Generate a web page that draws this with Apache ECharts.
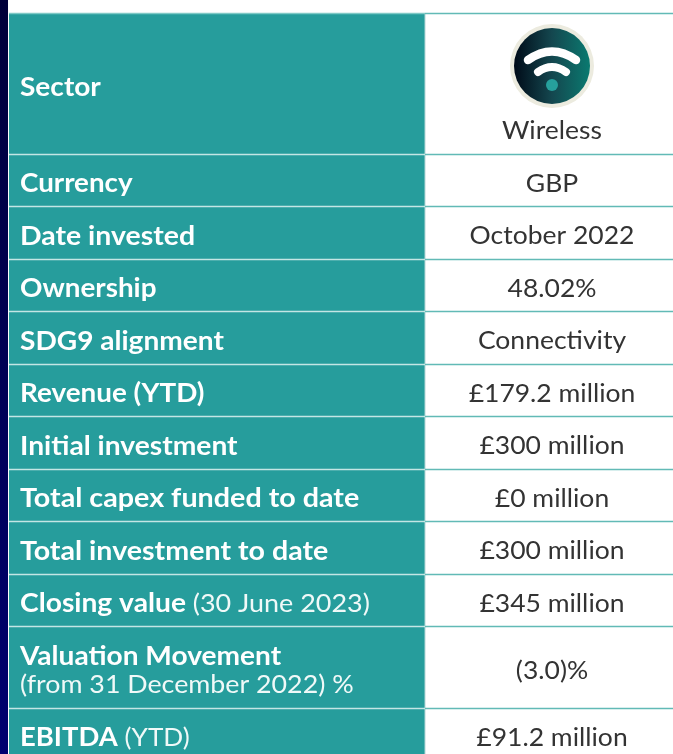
<!DOCTYPE html>
<html>
<head>
<meta charset="utf-8">
<style>
    html, body {margin: 0; padding: 0; background: #fff;}
    #main {width: 673px; height: 754px;}
</style>
<script src="https://cdn.jsdelivr.net/npm/echarts@6/dist/echarts.min.js"></script>
</head>
<body>
<div id="main"></div>
<script>
// table content
var rowLabels = ['Sector', 'Currency', 'Date invested', 'Ownership', 'SDG9 alignment', 'Revenue (YTD)',
    'Initial investment', 'Total capex funded to date', 'Total investment to date', 'Closing value',
    'Valuation Movement', 'EBITDA'];
var rowNotes = ['', '', '', '', '', '', '', '', '', '(30 June 2023)', '(from 31 December 2022) %', '(YTD)'];
var rowValues = ['Wireless', 'GBP', 'October 2022', '48.02%', 'Connectivity', '£179.2 million',
    '£300 million', '£0 million', '£300 million', '£345 million', '(3.0)%', '£91.2 million'];

// row edges, in axis units
var rowEdges = [13, 154, 206, 259, 311, 364, 416, 469, 521, 574, 626, 708, 760];
// Lato is narrower than the original face, stretch each label to fit
var labelStretch = [1.08, 1.067, 1.094, 1.07, 1.08, 1.07, 1.085, 1.104, 1.1, 1.085, 1.08, 1.055];

var TEAL = '#269d9c';
var LINE_LEFT = '#c4e6e4';
var LINE_RIGHT = '#62bab6';
var SPLIT_X = 425;
var VALUE_X = 552;

var chart = echarts.init(document.getElementById('main'));

function renderRow(params, api) {
    var i = api.value(0);
    var tl = api.coord([9, rowEdges[i]]);
    var mid = api.coord([SPLIT_X, rowEdges[i + 1]]);
    var br = api.coord([673, rowEdges[i + 1]]);
    var midY = (tl[1] + br[1]) / 2;
    var children = [
        {type: 'rect', shape: {x: tl[0], y: tl[1], width: mid[0] - tl[0], height: br[1] - tl[1]}, style: {fill: TEAL}},
        {type: 'line', shape: {x1: mid[0], y1: tl[1], x2: mid[0], y2: br[1]}, style: {stroke: '#b5d6d6', lineWidth: 1}},
        {type: 'line', shape: {x1: tl[0], y1: tl[1] + 0.5, x2: mid[0], y2: tl[1] + 0.5}, style: {stroke: i == 0 ? '#7fc9c6' : LINE_LEFT, lineWidth: 1.5}},
        {type: 'line', shape: {x1: mid[0], y1: tl[1] + 0.5, x2: br[0], y2: tl[1] + 0.5}, style: {stroke: LINE_RIGHT, lineWidth: 1.5}}
    ];
    var label = '{b|' + rowLabels[i] + '}';
    if (i == 10) {
        // two line label
        label += '\n{r|' + rowNotes[i] + '}';
    } else if (rowNotes[i]) {
        label += '{r| ' + rowNotes[i] + '}';
    }
    var labelX = api.coord([20, 0])[0];
    children.push({
        type: 'text',
        x: labelX,
        y: midY + 4,
        scaleX: labelStretch[i],
        style: {
            x: 0, y: 0, text: label, verticalAlign: 'middle', align: 'left',
            rich: {
                b: {font: '700 26px Lato', fill: '#fff', lineHeight: 29},
                r: {font: '400 24.8px Lato', fill: '#f0f9f8', lineHeight: 29}
            }
        }
    });
    var valueY = i == 0 ? api.coord([0, 131])[1] : midY + 3.5;
    children.push({
        type: 'text',
        x: api.coord([VALUE_X, 0])[0],
        y: valueY,
        scaleX: 1.06,
        style: {
            x: 0, y: 0, text: rowValues[i], verticalAlign: 'middle', align: 'center',
            font: '400 25px Lato', fill: '#333333'
        }
    });
    return {type: 'group', children: children};
}

// wifi badge in the Sector cell
function renderBadge(params, api) {
    var c = api.coord([api.value(0), api.value(1)]);
    var x = c[0], y = c[1];
    return {
        type: 'group',
        children: [
            {type: 'circle', shape: {cx: x, cy: y, r: 42}, style: {fill: '#ecebdf'}},
            {
                type: 'circle', shape: {cx: x, cy: y, r: 38},
                style: {
                    fill: new echarts.graphic.LinearGradient(0, 0, 1, 0, [
                        {offset: 0, color: '#000b18'},
                        {offset: 0.5, color: '#14474f'},
                        {offset: 1, color: '#0a7a70'}
                    ])
                }
            },
            {
                type: 'path',
                shape: {pathData: 'M' + (x - 24) + ' ' + (y - 6) + 'Q' + x + ' ' + (y - 23) + ' ' + (x + 24) + ' ' + (y - 6)},
                style: {fill: 'none', stroke: '#fff', lineWidth: 8.5, lineCap: 'round'}
            },
            {
                type: 'path',
                shape: {pathData: 'M' + (x - 14) + ' ' + (y + 6) + 'Q' + x + ' ' + (y - 4) + ' ' + (x + 14) + ' ' + (y + 6)},
                style: {fill: 'none', stroke: '#fff', lineWidth: 8, lineCap: 'round'}
            },
            {type: 'circle', shape: {cx: x, cy: y + 19, r: 6}, style: {fill: '#26a09c'}}
        ]
    };
}

var rowData = [];
for (var i = 0; i < rowLabels.length; i++) {
    rowData.push([i]);
}

var option = {
    animation: false,
    grid: {left: 0, right: 0, top: 0, bottom: 0},
    xAxis: {type: 'value', min: 0, max: 673, show: false},
    yAxis: {type: 'value', min: 0, max: 754, inverse: true, show: false},
    series: [
        {
            type: 'custom',
            coordinateSystem: 'cartesian2d',
            silent: true,
            renderItem: function (params, api) {
                var a = api.coord([0, 0]);
                var b = api.coord([8, 754]);
                return {
                    type: 'rect',
                    shape: {x: a[0], y: a[1], width: b[0] - a[0], height: b[1] - a[1]},
                    style: {
                        fill: new echarts.graphic.LinearGradient(0, 0, 0, 1, [
                            {offset: 0, color: '#00003a'},
                            {offset: 1, color: '#000070'}
                        ])
                    }
                };
            },
            data: [[0]]
        },
        {
            type: 'custom',
            coordinateSystem: 'cartesian2d',
            silent: true,
            renderItem: renderRow,
            encode: {x: -1, y: -1},
            data: rowData
        },
        {
            type: 'custom',
            coordinateSystem: 'cartesian2d',
            silent: true,
            renderItem: renderBadge,
            data: [[552, 66]]
        }
    ]
};
chart.setOption(option);
</script>
</body>
</html>
